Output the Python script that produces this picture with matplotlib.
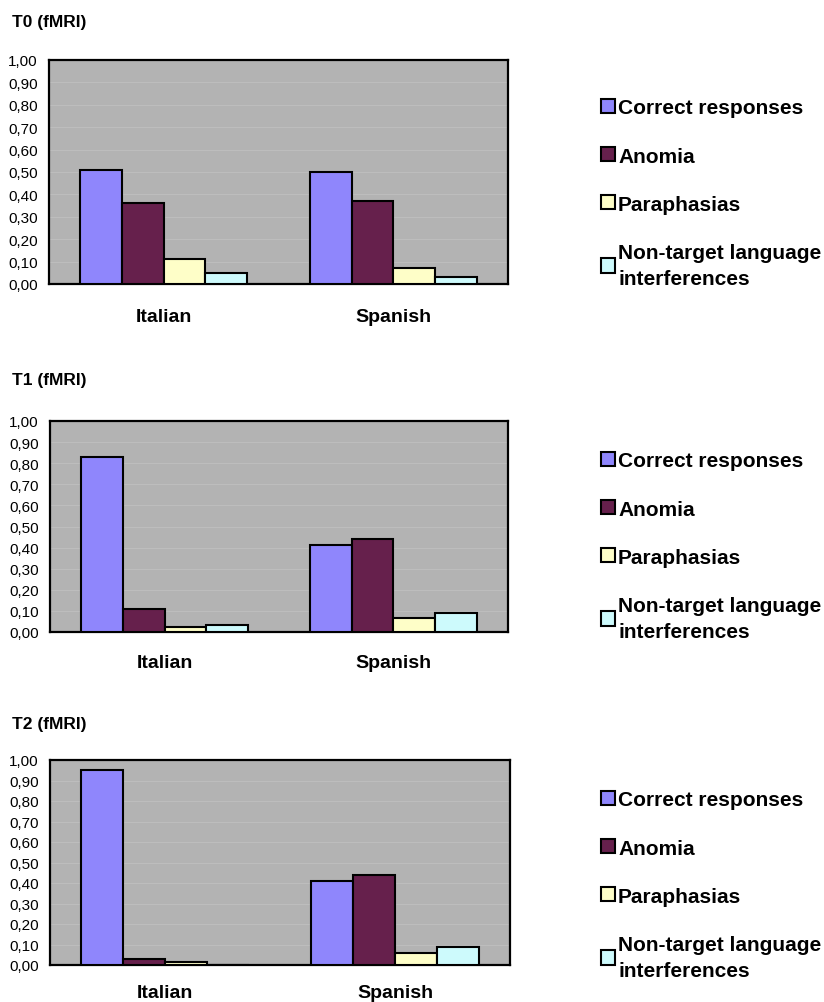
import matplotlib
matplotlib.use("Agg")
import matplotlib.pyplot as plt
import numpy as np

plt.rcParams['font.family'] = ['Liberation Sans', 'DejaVu Sans']

languages = ["Italian", "Spanish"]
series = ["Correct responses", "Anomia", "Paraphasias", "Non-target language\ninterferences"]
colors = ["#8f86fc", "#66204c", "#fefec8", "#cdfafc"]
panel_titles = ["T0 (fMRI)", "T1 (fMRI)", "T2 (fMRI)"]

t0_correct = [0.51, 0.50]
t0_anomia = [0.36, 0.37]
t0_para = [0.11, 0.07]
t0_nontarget = [0.05, 0.03]

t1_correct = [0.83, 0.41]
t1_anomia = [0.11, 0.44]
t1_para = [0.025, 0.065]
t1_nontarget = [0.035, 0.09]

t2_correct = [0.95, 0.41]
t2_anomia = [0.03, 0.44]
t2_para = [0.013, 0.06]
t2_nontarget = [0.0, 0.09]

yticks = [0.0, 0.1, 0.2, 0.3, 0.4, 0.5, 0.6, 0.7, 0.8, 0.9, 1.0]
ytick_labels = ["0,00", "0,10", "0,20", "0,30", "0,40", "0,50", "0,60", "0,70", "0,80", "0,90", "1,00"]

panels = [
    [t0_correct, t0_anomia, t0_para, t0_nontarget],
    [t1_correct, t1_anomia, t1_para, t1_nontarget],
    [t2_correct, t2_anomia, t2_para, t2_nontarget],
]

W, H = 824, 1003
fig = plt.figure(figsize=(W / 100, H / 100), dpi=100)

# (left, right, top, bottom) in pixels
boxes = [(49, 508, 61, 285), (50, 508, 422, 633), (50, 510, 761, 966)]
title_y = [23, 381, 725]
legend_mid = [194, 547, 886]
cat_pad = [17, 16, 13.5]

width = 1 / 5.5
x = np.arange(len(languages))

for p, (vals, box) in enumerate(zip(panels, boxes)):
    l, r, t, b = box
    ax = fig.add_axes([l / W, 1 - b / H, (r - l) / W, (b - t) / H])
    ax.set_facecolor("#b3b3b3")
    handles = []
    for i, (v, c) in enumerate(zip(vals, colors)):
        h = ax.bar(x + (i - 1.5) * width, v, width, color=c, edgecolor="black",
                   linewidth=1.5, zorder=3, label=series[i])
        handles.append(h)
    ax.set_xlim(-0.5, 1.5)
    ax.set_ylim(0, 1.0)
    ax.set_yticks(yticks)
    ax.set_yticklabels(ytick_labels, fontsize=11)
    ax.yaxis.grid(True, color="#bdbdbd", linewidth=0.8, zorder=0)
    ax.set_xticks(x)
    ax.set_xticklabels(languages, fontsize=14, fontweight="bold")
    ax.tick_params(axis="x", length=0, pad=cat_pad[p])
    ax.tick_params(axis="y", length=0, pad=8)
    for s in ax.spines.values():
        s.set_linewidth(1.6)
        s.set_color("black")
    fig.text(12 / W, 1 - title_y[p] / H, panel_titles[p], fontsize=12.5,
             fontweight="bold", va="center", ha="left")
    leg = fig.legend(handles=handles, labels=series, loc="center left",
                     bbox_to_anchor=(601 / W, 1 - legend_mid[p] / H),
                     frameon=False, fontsize=15, handlelength=0.67, handleheight=0.67,
                     handletextpad=0.15, labelspacing=1.4, borderaxespad=0, borderpad=0)
    for txt in leg.get_texts():
        txt.set_fontweight("bold")
        txt.set_linespacing(1.45)

fig.savefig("out.png", dpi=100, facecolor="white")
